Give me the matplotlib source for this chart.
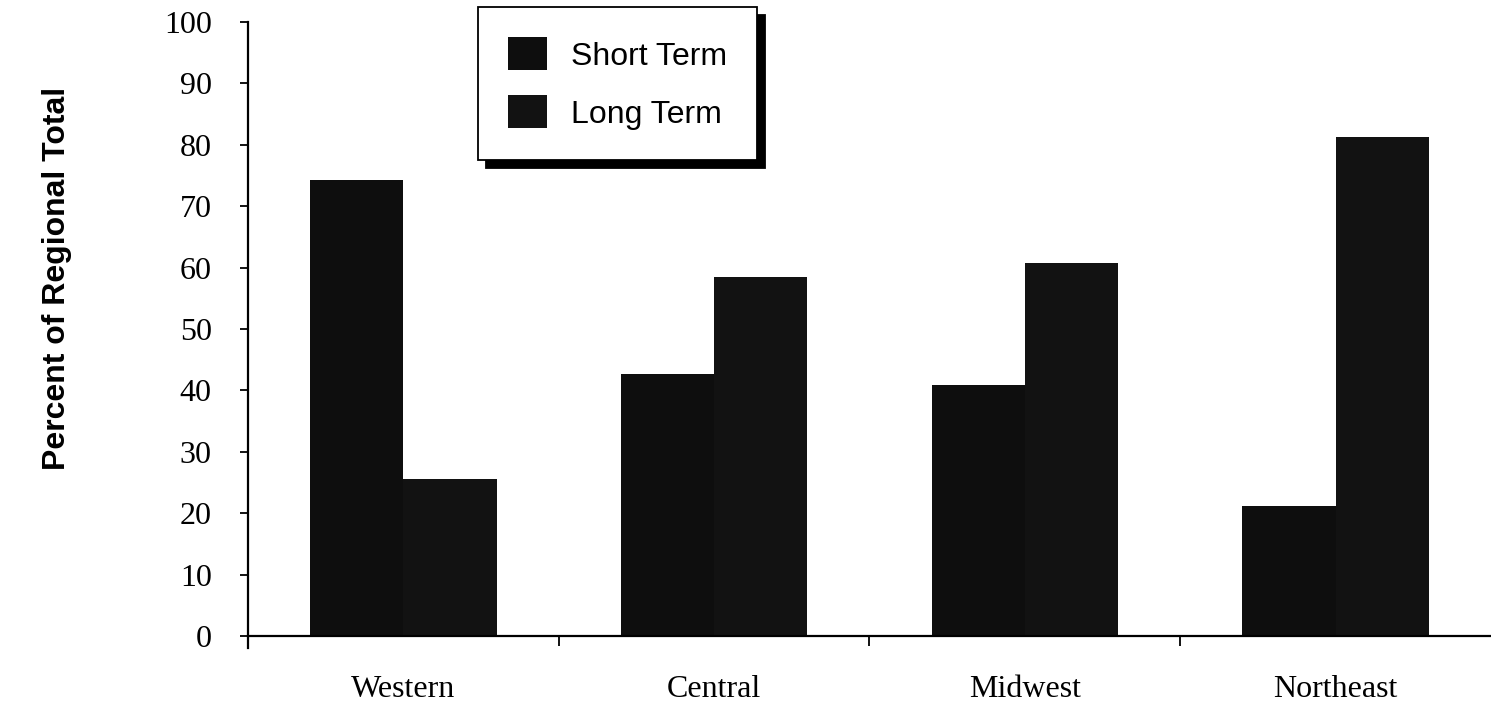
import numpy as np
import matplotlib
matplotlib.use("Agg")
import matplotlib.pyplot as plt

# Data
regions = ["Western", "Central", "Midwest", "Northeast"]
short_term = [74.2, 42.6, 40.8, 21.2]
long_term = [25.5, 58.4, 60.8, 81.3]
y_ticks = [0, 10, 20, 30, 40, 50, 60, 70, 80, 90, 100]

SERIF = "Liberation Serif"
SANS = "Liberation Sans"

fig = plt.figure(figsize=(14.91, 7.04), dpi=100)
ax = fig.add_axes([0.1663, 0.0966, 0.8337, 0.8722])

x = np.arange(len(regions))
width = 0.3
ax.bar(x - width / 2, short_term, width, color="#0e0e0e", label="Short Term")
ax.bar(x + width / 2, long_term, width, color="#121212", label="Long Term")

ax.set_xlim(-0.5, len(regions) - 0.5)
ax.set_ylim(0, 100)

# spines
for side in ["top", "right"]:
    ax.spines[side].set_visible(False)
for side in ["left", "bottom"]:
    ax.spines[side].set_linewidth(1.6)
    ax.spines[side].set_color("black")
ax.spines["left"].set_bounds(-2, 100)

# y axis
ax.set_yticks(y_ticks)
ax.set_yticklabels([str(v) for v in y_ticks], fontfamily=SERIF, fontsize=23)
ax.tick_params(axis="y", direction="out", length=6, width=1.3, pad=20)

# x axis: labels at centres, tick marks between groups
ax.set_xticks(x)
ax.set_xticklabels(regions, fontfamily=SERIF, fontsize=23)
ax.set_xticks(x[:-1] + 0.5, minor=True)
ax.tick_params(axis="x", which="major", length=0, pad=28)
ax.tick_params(axis="x", which="minor", direction="out", length=7, width=1.3)

fig.text(57 / 1491, 1 - 278 / 704, "Percent of Regional Total",
         fontfamily=SANS, fontweight="bold", fontsize=23,
         rotation=90, ha="center", va="center")

# legend with a heavy drop shadow
leg = ax.legend(loc="upper left", bbox_to_anchor=(0.3206, 0.990),
                bbox_transform=fig.transFigure, borderaxespad=0,
                prop={"family": SANS, "size": 23},
                frameon=True, fancybox=False, edgecolor="black",
                handlelength=1.2, handleheight=1.2, handletextpad=0.75,
                labelspacing=0.75, borderpad=0.95,
                shadow={"ox": 5.5, "oy": -5.5, "color": "black", "alpha": 1})
leg.get_frame().set_linewidth(1.3)
leg.get_frame().set_alpha(1)

fig.savefig("out.png", dpi=100)
